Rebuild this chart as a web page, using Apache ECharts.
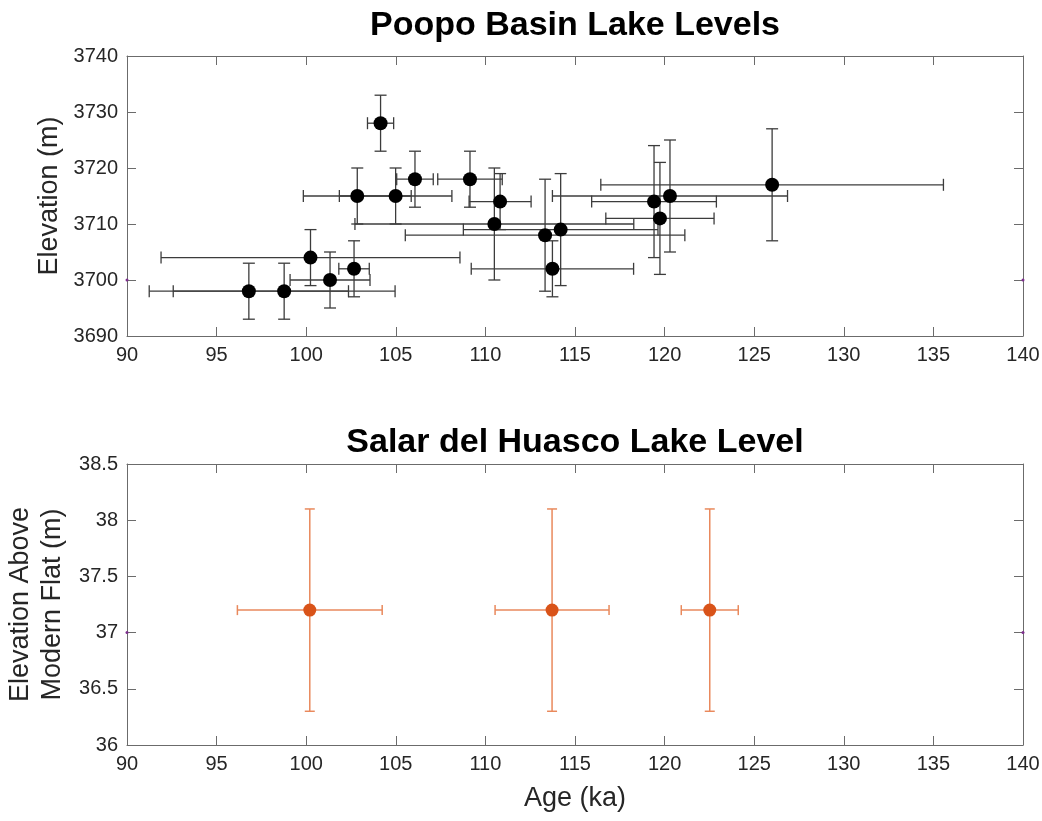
<!DOCTYPE html>
<html>
<head>
<meta charset="utf-8">
<script src="https://cdn.jsdelivr.net/npm/echarts@6/dist/echarts.min.js"></script>
<style>
  html, body { margin: 0; padding: 0; background: #fff; }
  #main { width: 1042px; height: 821px; }
</style>
</head>
<body>
<div id="main"></div>
<script>
// Poopo basin: age (ka) with +/- error, elevation (m) with +/- error
const poopoAge = [96.8, 98.77, 100.24, 101.33, 102.67, 102.85, 104.15, 104.99, 106.07, 109.14, 110.5, 110.82, 113.33, 113.74, 114.2, 119.41, 119.74, 120.3, 126.0]
const poopoAgeErr = [5.56, 6.19, 8.34, 2.23, 0.85, 3.01, 0.73, 3.14, 1.02, 1.8, 7.78, 1.73, 7.8, 4.53, 5.43, 3.48, 3.02, 6.56, 9.56]
const poopoElev = [3698, 3698, 3704, 3700, 3702, 3715, 3728, 3715, 3718, 3718, 3710, 3714, 3708, 3702, 3709, 3714, 3711, 3715, 3717]
const poopoElevErr = [5, 5, 5, 5, 5, 5, 5, 5, 5, 5, 10, 5, 10, 5, 10, 10, 10, 10, 10]

// Salar del Huasco
const huascoAge = [100.2, 113.72, 122.52]
const huascoAgeErr = [4.04, 3.18, 1.59]
const huascoElev = [37.2, 37.2, 37.2]
const huascoElevErr = [0.9, 0.9, 0.9]

// small reference markers on the axis edges
const markerAge = [90, 140]
const poopoMarkerElev = [3700, 3700]
const huascoMarkerElev = [37, 37]

const xTicks = { min: 90, max: 140, interval: 5 }
const poopoTicks = { min: 3690, max: 3740, interval: 10 }
const huascoTicks = { min: 36, max: 38.5, interval: 0.5 }

const FONT = '"Liberation Sans", Arial, Helvetica, sans-serif'
const AXIS_COLOR = '#6b6b6b'
const TEXT_COLOR = '#262626'

const chart = echarts.init(document.getElementById('main'))

function errRows(xs, xe, ys, ye) {
  return xs.map((x, i) => [x, ys[i], xe[i], ye[i]])
}

function errorBarSeries(xIdx, yIdx, rows, color, width, cap) {
  return {
    type: 'custom',
    xAxisIndex: xIdx,
    yAxisIndex: yIdx,
    z: 2,
    silent: true,
    encode: { x: 0, y: 1 },
    data: rows,
    renderItem: function (params, api) {
      const x = api.value(0), y = api.value(1)
      const xe = api.value(2), ye = api.value(3)
      const l = api.coord([x - xe, y])
      const r = api.coord([x + xe, y])
      const t = api.coord([x, y + ye])
      const b = api.coord([x, y - ye])
      const style = { stroke: color, lineWidth: width }
      const seg = (x1, y1, x2, y2) => ({ type: 'line', shape: { x1, y1, x2, y2 }, style })
      return {
        type: 'group',
        children: [
          seg(l[0], l[1], r[0], r[1]),
          seg(l[0], l[1] - cap, l[0], l[1] + cap),
          seg(r[0], r[1] - cap, r[0], r[1] + cap),
          seg(t[0], t[1], b[0], b[1]),
          seg(t[0] - cap, t[1], t[0] + cap, t[1]),
          seg(b[0] - cap, b[1], b[0] + cap, b[1])
        ]
      }
    }
  }
}

function mainX(gridIndex, name) {
  return {
    type: 'value', gridIndex, ...xTicks,
    name, nameLocation: 'middle', nameGap: 40,
    nameTextStyle: { fontFamily: FONT, fontSize: 27, color: TEXT_COLOR },
    axisLine: { show: true, onZero: false, lineStyle: { color: AXIS_COLOR, width: 1 } },
    axisTick: { show: true, inside: true, length: 9, lineStyle: { color: AXIS_COLOR } },
    axisLabel: { fontFamily: FONT, fontSize: 20, color: TEXT_COLOR, margin: 9, showMinLabel: true, showMaxLabel: true },
    splitLine: { show: false }
  }
}
function boxX(gridIndex) {
  return {
    type: 'value', gridIndex, position: 'top', ...xTicks,
    axisLine: { show: true, onZero: false, lineStyle: { color: AXIS_COLOR, width: 1 } },
    axisTick: { show: true, inside: true, length: 9, lineStyle: { color: AXIS_COLOR } },
    axisLabel: { show: false }, splitLine: { show: false }
  }
}
function mainY(gridIndex, ticks, name, gap, lh) {
  return {
    type: 'value', gridIndex, ...ticks,
    name, nameLocation: 'middle', nameGap: gap,
    nameTextStyle: { fontFamily: FONT, fontSize: 27, color: TEXT_COLOR, lineHeight: lh },
    axisLine: { show: true, onZero: false, lineStyle: { color: AXIS_COLOR, width: 1 } },
    axisTick: { show: true, inside: true, length: 9, lineStyle: { color: AXIS_COLOR } },
    axisLabel: {
      fontFamily: FONT, fontSize: 20, color: TEXT_COLOR, margin: 9,
      showMinLabel: true, showMaxLabel: true,
      formatter: v => String(v)
    },
    splitLine: { show: false }
  }
}
function boxY(gridIndex, ticks) {
  return {
    type: 'value', gridIndex, position: 'right', ...ticks,
    axisLine: { show: true, onZero: false, lineStyle: { color: AXIS_COLOR, width: 1 } },
    axisTick: { show: true, inside: true, length: 9, lineStyle: { color: AXIS_COLOR } },
    axisLabel: { show: false }, splitLine: { show: false }
  }
}

const option = {
  backgroundColor: '#fff',
  animation: false,
  title: [
    {
      text: 'Poopo Basin Lake Levels', left: 575, top: 9, textAlign: 'center', padding: 0,
      textStyle: { fontFamily: FONT, fontSize: 34, fontWeight: 'bold', color: '#000' }
    },
    {
      text: 'Salar del Huasco Lake Level', left: 575, top: 426, textAlign: 'center', padding: 0,
      textStyle: { fontFamily: FONT, fontSize: 34, fontWeight: 'bold', color: '#000' }
    }
  ],
  grid: [
    { left: 127, right: 19, top: 56, height: 280, outerBoundsMode: 'none', containLabel: false },
    { left: 127, right: 19, top: 464, height: 281, outerBoundsMode: 'none', containLabel: false }
  ],
  xAxis: [mainX(0, ''), boxX(0), mainX(1, 'Age (ka)'), boxX(1)],
  yAxis: [
    mainY(0, poopoTicks, 'Elevation (m)', 60),
    boxY(0, poopoTicks),
    mainY(1, huascoTicks, 'Elevation Above\nModern Flat (m)', 55, 32),
    boxY(1, huascoTicks)
  ],
  series: [
    errorBarSeries(0, 0, errRows(poopoAge, poopoAgeErr, poopoElev, poopoElevErr), '#3c3c3c', 1.3, 6),
    {
      type: 'scatter', xAxisIndex: 0, yAxisIndex: 0, z: 3,
      symbol: 'circle', symbolSize: 14,
      itemStyle: { color: '#000', opacity: 1 },
      data: poopoAge.map((x, i) => [x, poopoElev[i]])
    },
    {
      type: 'scatter', xAxisIndex: 0, yAxisIndex: 0, z: 4,
      symbol: 'circle', symbolSize: 3,
      itemStyle: { color: '#7E2F8E', opacity: 1 },
      data: markerAge.map((x, i) => [x, poopoMarkerElev[i]])
    },
    errorBarSeries(2, 2, errRows(huascoAge, huascoAgeErr, huascoElev, huascoElevErr), '#E9895C', 1.5, 5),
    {
      type: 'scatter', xAxisIndex: 2, yAxisIndex: 2, z: 3,
      symbol: 'circle', symbolSize: 13,
      itemStyle: { color: '#D95319', opacity: 1 },
      data: huascoAge.map((x, i) => [x, huascoElev[i]])
    },
    {
      type: 'scatter', xAxisIndex: 2, yAxisIndex: 2, z: 4,
      symbol: 'circle', symbolSize: 3,
      itemStyle: { color: '#7E2F8E', opacity: 1 },
      data: markerAge.map((x, i) => [x, huascoMarkerElev[i]])
    }
  ]
}

chart.setOption(option)
</script>
</body>
</html>
